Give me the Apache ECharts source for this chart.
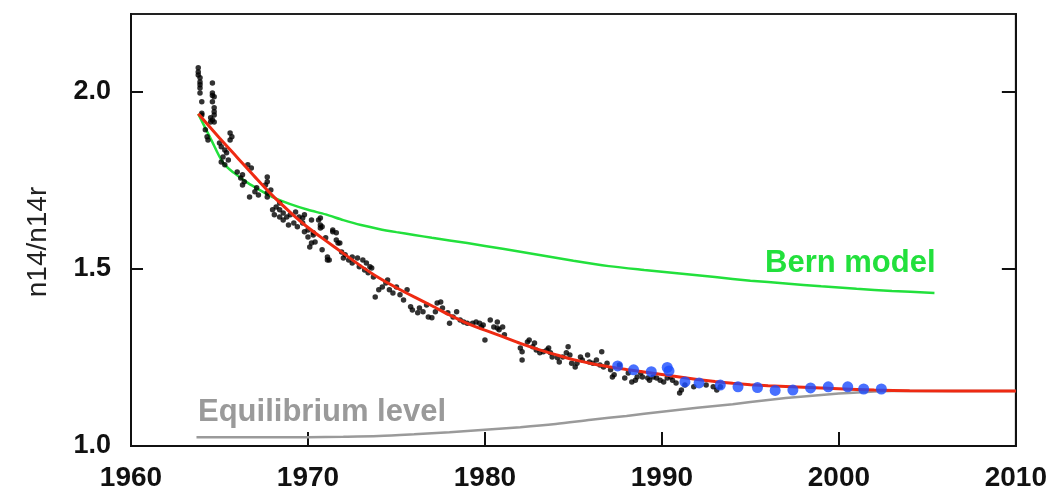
<!DOCTYPE html>
<html>
<head>
<meta charset="utf-8">
<script src="https://cdn.jsdelivr.net/npm/echarts@6/dist/echarts.min.js"></script>
<style>html,body{margin:0;padding:0;background:#fff;}#chart{width:1050px;height:499px;}</style>
</head>
<body>
<div id="chart"></div>
<script>
// ---- data ----
const xTicks = [1960, 1970, 1980, 1990, 2000, 2010];
const yTicks = [1.0, 1.5, 2.0];

const fitYears  = [1963.8,1965,1966,1967,1968,1969,1970,1971,1972,1973,1974,1975,1976,1977,1978,1979,1980,1981,1982,1983,1984,1985,1986,1987,1988,1989,1990,1991,1992,1993,1994,1995,1996,1998,2000,2002,2004,2010];
const fitValues = [1.938,1.870,1.815,1.760,1.707,1.660,1.617,1.580,1.544,1.508,1.475,1.447,1.421,1.396,1.370,1.346,1.327,1.309,1.290,1.273,1.258,1.244,1.233,1.224,1.216,1.209,1.202,1.195,1.188,1.182,1.177,1.173,1.170,1.166,1.162,1.158,1.156,1.155];

const bernYears  = [1963.8,1964.5,1965.2,1965.8,1966.6,1967.3,1968,1969,1970,1971,1972,1973,1974,1975,1976,1977,1979,1981,1983,1985,1987,1989,1991,1993,1995,1997,1999,2001,2003,2005.4];
const bernValues = [1.938,1.868,1.800,1.772,1.743,1.722,1.703,1.683,1.667,1.654,1.638,1.624,1.613,1.604,1.596,1.588,1.573,1.557,1.540,1.523,1.508,1.497,1.487,1.477,1.467,1.459,1.451,1.444,1.438,1.432];

const eqYears  = [1963.7,1966,1970,1972,1974,1976,1978,1980,1982,1984,1986,1988,1990,1992,1994,1996,1998,2000,2002,2003,2010];
const eqValues = [1.025,1.025,1.025,1.026,1.028,1.033,1.039,1.046,1.053,1.062,1.074,1.085,1.097,1.108,1.118,1.130,1.140,1.148,1.154,1.155,1.155];

const blueYears  = [1987.5,1988.4,1989.4,1990.3,1990.4,1991.3,1992.1,1993.3,1994.3,1995.4,1996.4,1997.4,1998.4,1999.4,2000.5,2001.4,2002.4];
const blueValues = [1.226,1.215,1.210,1.222,1.212,1.181,1.178,1.172,1.167,1.165,1.157,1.158,1.164,1.167,1.167,1.161,1.161];

const measured = [
 [1963.8,2.068],[1963.8,2.056],[1963.8,2.048],[1963.9,2.040],[1963.9,2.028],[1963.9,2.020],[1963.9,2.011],[1963.9,1.997],[1964.0,1.972],[1964.0,1.940],
 [1964.6,2.025],[1964.6,1.997],[1964.6,1.990],[1964.7,1.986],[1964.6,1.972],[1964.7,1.955],[1964.7,1.944],[1964.7,1.935],[1964.6,1.921],[1964.7,1.915],
 [1964.0,1.935],[1964.5,1.927],[1964.5,1.915],[1964.2,1.893],[1964.3,1.873],[1964.35,1.864],
 [1965.6,1.884],[1965.7,1.873],[1965.6,1.864],[1965.0,1.856],[1965.1,1.845],[1965.3,1.836],[1965.4,1.828],[1965.2,1.816],[1965.5,1.808],[1965.1,1.802],[1965.3,1.794],
 [1966.6,1.794],[1966.8,1.785],[1966.0,1.774],[1966.3,1.766],[1966.2,1.757],[1966.4,1.746],[1966.3,1.737],[1967.1,1.729],[1967.0,1.718],[1967.2,1.709],[1966.7,1.703],
 [1967.7,1.760],[1967.7,1.746],[1967.6,1.737],[1967.9,1.723],[1967.7,1.715],[1967.7,1.703],
 [1968.2,1.675],[1968.4,1.667],[1968.6,1.658],[1968.8,1.647],[1969.0,1.653],[1969.3,1.661],[1969.5,1.647],[1969.8,1.653],[1970.2,1.638],[1970.7,1.644],[1970.7,1.624],[1968.4,1.686],
 [1968.0,1.667],[1968.1,1.653],[1968.4,1.647],[1968.6,1.638],[1968.9,1.624],[1969.2,1.630],[1969.4,1.619],[1969.7,1.644],[1969.8,1.605],[1970.0,1.590],
 [1970.1,1.562],[1970.3,1.602],[1970.6,1.638],[1970.7,1.616],[1971.0,1.588],[1971.1,1.534],[1971.1,1.525],[1971.4,1.605],[1971.6,1.582],[1971.7,1.573],
 [1969.7,1.630],[1970.0,1.610],[1970.3,1.596],[1970.2,1.573],[1970.4,1.576],[1970.8,1.619],[1970.8,1.554],[1971.2,1.525],[1971.4,1.610],[1971.6,1.602],
 [1971.8,1.573],[1971.9,1.548],[1972.0,1.531],[1972.1,1.540],[1972.3,1.525],[1972.5,1.534],[1972.5,1.517],[1972.8,1.531],[1972.9,1.506],[1973.1,1.525],
 [1973.2,1.497],[1973.3,1.517],[1973.4,1.489],[1973.5,1.506],[1973.6,1.503],[1973.7,1.477],[1973.8,1.421],[1974.0,1.441],[1974.2,1.449],[1974.4,1.460],
 [1974.5,1.469],[1974.6,1.441],[1974.8,1.432],[1975.0,1.449],[1975.2,1.427],[1975.4,1.412],[1975.6,1.441],[1975.8,1.393],[1975.9,1.384],[1976.2,1.376],
 [1976.3,1.390],[1976.5,1.379],[1976.7,1.398],[1976.8,1.364],[1977.0,1.362],[1977.2,1.379],[1977.3,1.404],[1977.5,1.407],[1977.6,1.390],[1977.9,1.376],
 [1978.0,1.347],[1978.2,1.364],[1978.4,1.379],[1978.6,1.356],[1978.8,1.350],[1979.0,1.347],[1979.3,1.347],[1979.5,1.350],[1979.8,1.336],[1980.3,1.356],
 [1980.5,1.336],[1980.7,1.333],[1979.7,1.347],[1979.9,1.342],[1980.0,1.299],[1980.7,1.350],[1980.8,1.328],[1981.0,1.336],[1981.1,1.314],
 [1982.0,1.277],[1982.1,1.266],[1982.1,1.243],[1982.4,1.294],[1982.5,1.299],[1982.7,1.280],[1982.8,1.291],[1982.9,1.271],[1983.1,1.263],[1983.3,1.266],
 [1983.5,1.271],[1983.6,1.277],[1983.7,1.263],[1983.8,1.251],[1984.1,1.249],[1984.2,1.237],[1984.4,1.251],[1984.6,1.263],[1984.7,1.280],[1984.8,1.257],
 [1984.9,1.234],[1985.1,1.223],[1985.2,1.234],[1985.4,1.251],[1985.5,1.243],[1985.8,1.257],[1985.9,1.237],[1986.1,1.234],[1986.3,1.243],[1986.5,1.229],
 [1986.6,1.266],[1986.7,1.223],[1986.9,1.234],[1987.1,1.215],[1987.2,1.195],[1987.3,1.201],[1987.6,1.229],[1987.9,1.192],[1988.1,1.206],[1988.3,1.181],
 [1988.5,1.186],[1988.6,1.195],[1988.8,1.206],[1988.9,1.195],[1989.2,1.192],[1989.3,1.186],[1989.5,1.195],[1989.7,1.192],[1989.9,1.186],[1990.1,1.181],
 [1990.3,1.192],[1990.5,1.195],[1990.6,1.186],[1990.8,1.178],[1991.0,1.150],[1991.1,1.158],[1991.3,1.172],[1991.8,1.167],[1992.5,1.172],[1992.9,1.167],
 [1993.1,1.158],[1993.3,1.167]
];

const zip = (xs, ys) => xs.map((x, i) => [x, ys[i]]);

const chart = echarts.init(document.getElementById('chart'), null, {renderer: 'canvas'});
const font = '"Liberation Sans", Arial, Helvetica, sans-serif';

chart.setOption({
  animation: false,
  backgroundColor: '#fff',
  grid: {left: 131, right: 34, top: 14, bottom: 53, show: true, borderColor: '#222', borderWidth: 2, backgroundColor: 'transparent'},
  xAxis: [{
    type: 'value', min: 1960, max: 2010, interval: 10,
    axisLine: {show: true, lineStyle: {color: '#111', width: 2}},
    axisTick: {show: true, inside: true, length: 14, lineStyle: {color: '#111', width: 2}},
    axisLabel: {color: '#111', fontSize: 28, fontWeight: 'bold', fontFamily: font, margin: 18,
                customValues: xTicks, formatter: v => String(v)},
    splitLine: {show: false}
  }],
  yAxis: [{
    type: 'value', min: 1.0, max: 2.22, position: 'left',
    axisLine: {show: true, lineStyle: {color: '#111', width: 2}},
    axisTick: {show: true, inside: true, length: 12, lineStyle: {color: '#111', width: 2}, customValues: yTicks},
    axisLabel: {color: '#111', fontSize: 27, fontWeight: 'bold', fontFamily: font, margin: 20,
                customValues: yTicks, formatter: v => v.toFixed(1)},
    splitLine: {show: false}
  }, {
    type: 'value', min: 1.0, max: 2.22, position: 'right',
    axisLine: {show: true, lineStyle: {color: '#111', width: 2}},
    axisTick: {show: true, inside: true, length: 14, lineStyle: {color: '#111', width: 2}, customValues: yTicks},
    axisLabel: {show: false},
    splitLine: {show: false}
  }],
  series: [
    {type: 'line', name: 'Equilibrium', data: zip(eqYears, eqValues), smooth: 0.3, showSymbol: false,
     lineStyle: {color: '#9a9a9a', width: 2.5}, z: 2},
    {type: 'line', name: 'Bern model', data: zip(bernYears, bernValues), smooth: 0.3, showSymbol: false,
     lineStyle: {color: '#22e03c', width: 2.5}, z: 3},
    {type: 'scatter', name: 'measured', data: measured, symbolSize: 5.5,
     itemStyle: {color: '#000'}, z: 4},
    {type: 'line', name: 'fit', data: zip(fitYears, fitValues), smooth: 0.3, showSymbol: false,
     lineStyle: {color: '#ee2a12', width: 3}, z: 5},
    {type: 'scatter', name: 'recent', data: zip(blueYears, blueValues), symbolSize: 11,
     itemStyle: {color: '#1a4cff'}, z: 6}
  ],
  graphic: [
    {type: 'text', x: 38, y: 242, rotation: Math.PI / 2,
     style: {text: 'n14/n14r', fill: '#222', font: '28px ' + font, align: 'center', verticalAlign: 'middle'}},
    {type: 'text', left: 765, top: 248, style: {text: 'Bern model', fill: '#22e03c', font: 'bold 31px ' + font}},
    {type: 'text', left: 198, top: 397, style: {text: 'Equilibrium level', fill: '#9a9a9a', font: 'bold 31px ' + font}}
  ]
});
</script>
</body>
</html>
